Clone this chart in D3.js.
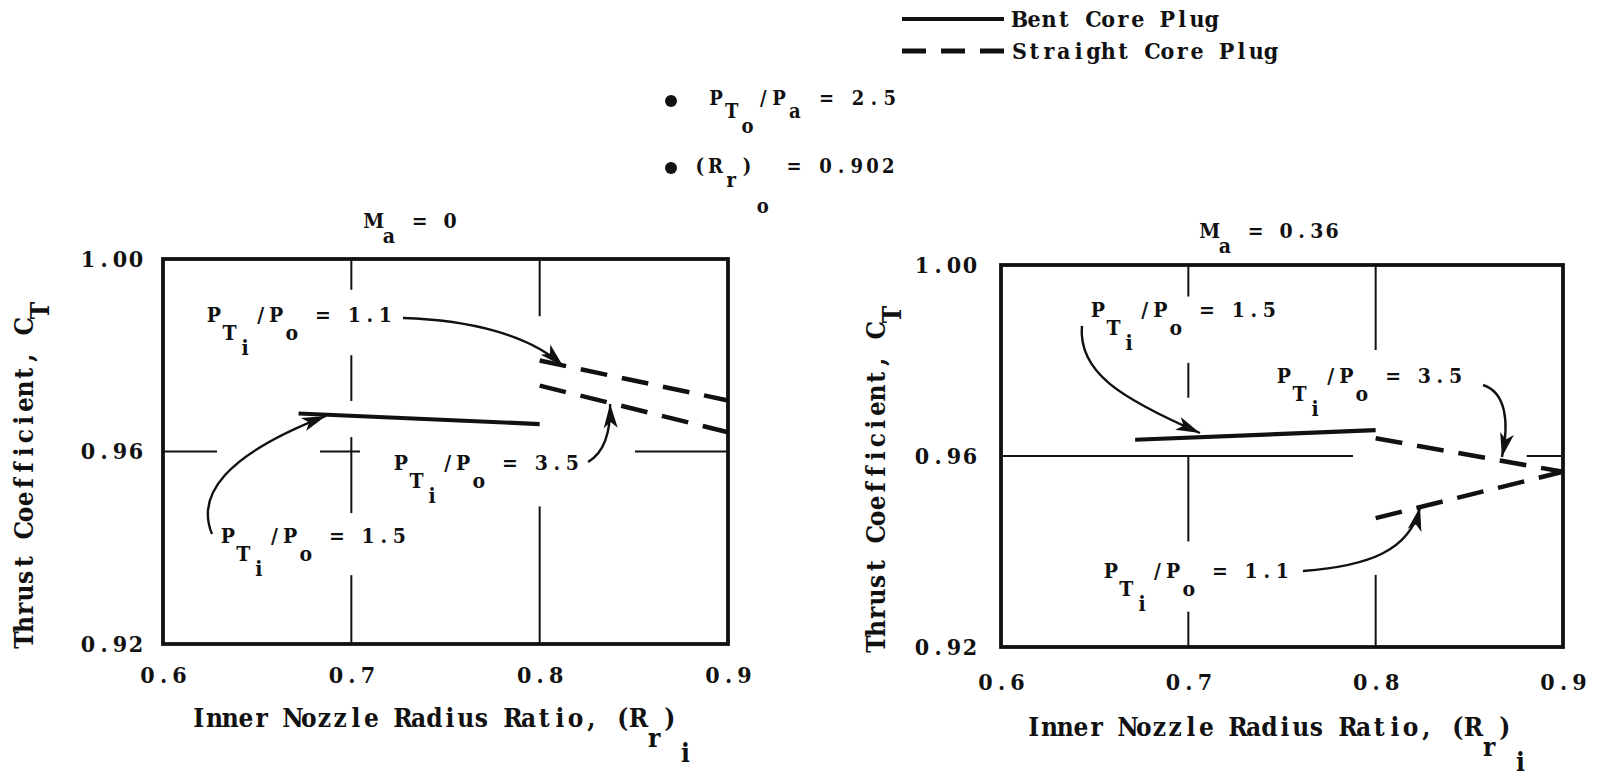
<!DOCTYPE html>
<html><head><meta charset="utf-8">
<script src="https://cdn.jsdelivr.net/npm/d3@7"></script>
<style>
body{margin:0;background:#fff;}
svg text{font-family:"DejaVu Serif",serif;font-weight:bold;font-stretch:condensed;fill:#111;white-space:pre;}
</style></head><body>
<svg id="chart" width="1598" height="779"></svg>
<script>
// ---------------- data ----------------
const xTicks = [0.6, 0.7, 0.8, 0.9];
const xTickLabels = ["0.6", "0.7", "0.8", "0.9"];
const yTicks = [0.92, 0.96, 1.00];
const yTickLabels = ["0.92", "0.96", "1.00"];
const machNumbers = ["0", "0.36"];
const legendLabels = ["Bent Core Plug", "Straight Core Plug"];
const totalPressureRatio = "2.5";     // P_To/P_a
const outerRadiusRatio = "0.902";     // (R_r)_o

// Bent core plug, P_Ti/P_o = 1.5  (per panel: Ma = 0, Ma = 0.36)
const bentX = [[0.672, 0.800], [0.6716, 0.800]];
const bentY = [[0.9679, 0.9657], [0.9634, 0.9654]];
// Straight core plug
const straightX = [0.80, 0.90];
const straight11Y = [[0.9789, 0.9706], [0.9470, 0.9567]];   // P_Ti/P_o = 1.1
const straight35Y = [[0.9737, 0.9640], [0.9637, 0.9567]];   // P_Ti/P_o = 3.5

// annotation labels: panel, ratio, x, y (data coords of label start / baseline)
const annoLabels = [
  [0, "1.1", 0.6239, 0.98691],
  [0, "1.5", 0.6313, 0.94098],
  [0, "3.5", 0.7232, 0.95615],
  [1, "1.5", 0.6486, 0.98911],
  [1, "3.5", 0.7479, 0.97529],
  [1, "1.1", 0.6555, 0.93445]
];
// annotation arrows: panel, cubic bezier control points in data coords
const annoArrows = [
  [0, [[0.7274, 0.98774], [0.7630, 0.98732], [0.7949, 0.98421], [0.8124, 0.97777]]],
  [0, [[0.6260, 0.94286], [0.6175, 0.95096], [0.6329, 0.95927], [0.6865, 0.96740]]],
  [0, [[0.8257, 0.95782], [0.8320, 0.95927], [0.8379, 0.96239], [0.8374, 0.96987]]],
  [1, [[0.6432, 0.98723], [0.6411, 0.97759], [0.6635, 0.97215], [0.7062, 0.96482]]],
  [1, [[0.8573, 0.97487], [0.8690, 0.97340], [0.8717, 0.96754], [0.8674, 0.95979]]],
  [1, [[0.7612, 0.93592], [0.7970, 0.93696], [0.8183, 0.94032], [0.8237, 0.94932]]]
];
// grid line pieces (broken by annotations): panel, value, [from,to] pairs
const gridVertical = [
  [0, 0.7, [[1.00, 0.9936], [0.9800, 0.9705], [0.9630, 0.9472], [0.9343, 0.92]]],
  [0, 0.8, [[1.00, 0.9881], [0.9486, 0.92]]],
  [1, 0.7, [[1.00, 0.9934], [0.9795, 0.9722], [0.9600, 0.9421], [0.9274, 0.92]]],
  [1, 0.8, [[1.00, 0.9822], [0.9351, 0.92]]]
];
const gridHorizontal = [
  [0, 0.96, [[0.6, 0.6287], [0.6834, 0.7046], [0.8506, 0.9]]],
  [1, 0.96, [[0.6, 0.7879], [0.8806, 0.9]]]
];

// ---------------- layout ----------------
const panels = [
  {left: 163, right: 728, top: 259, bottom: 644, titleX: 366, titleY: 228, xtX: 191, xtY: 727, ytX: 33, ytY: 648, padB: 23, padL: 19},
  {left: 1001, right: 1563, top: 265, bottom: 647, titleX: 1202, titleY: 238, xtX: 1026, xtY: 736, ytX: 885, ytY: 652, padB: 27, padL: 23}
];
const INK = "#111";
const svg = d3.select("#chart");
svg.append("rect").attr("width", 1598).attr("height", 779).attr("fill", "#fff");

// typewriter-style text: every character sits in a fixed-width cell
function typed(parent, x, y, tokens, size, shifts, adv, transform) {
  const t = parent.append("text").attr("font-size", size)
    .attr("xml:space", "preserve").attr("text-anchor", "middle");
  if (transform) t.attr("transform", transform);
  let idx = 0;
  tokens.forEach(([s, lvl]) => {
    const xs = Array.from(s, (c, i) => (x + (idx + i + 0.5) * adv).toFixed(2));
    t.append("tspan").attr("x", xs.join(" ")).attr("y", y + shifts[lvl]).text(s);
    idx += s.length;
  });
  return t;
}
function monoize(sel, adv, anchor) {
  sel.each(function () {
    const el = d3.select(this), s = el.text(), n = s.length;
    const x0 = +el.attr("x") || 0;
    const start = anchor === "end" ? x0 - n * adv : anchor === "middle" ? x0 - n * adv / 2 : x0;
    el.attr("xml:space", "preserve").attr("text-anchor", "middle")
      .attr("x", Array.from(s, (c, i) => (start + (i + 0.5) * adv).toFixed(2)).join(" "));
  });
}

panels.forEach((p, pi) => {
  const x = d3.scaleLinear().domain([0.6, 0.9]).range([p.left, p.right]);
  const y = d3.scaleLinear().domain([0.92, 1.0]).range([p.bottom, p.top]);
  const g = svg.append("g");

  // grid pieces
  gridVertical.filter(d => d[0] === pi).forEach(([, xv, segs]) => {
    segs.forEach(([a, b]) => g.append("line")
      .attr("x1", x(xv)).attr("x2", x(xv)).attr("y1", y(a)).attr("y2", y(b))
      .attr("stroke", INK).attr("stroke-width", 2));
  });
  gridHorizontal.filter(d => d[0] === pi).forEach(([, yv, segs]) => {
    segs.forEach(([a, b]) => g.append("line")
      .attr("x1", x(a)).attr("x2", x(b)).attr("y1", y(yv)).attr("y2", y(yv))
      .attr("stroke", INK).attr("stroke-width", 2));
  });

  // frame
  g.append("rect").attr("x", x(0.6)).attr("y", y(1.0))
    .attr("width", x(0.9) - x(0.6)).attr("height", y(0.92) - y(1.0))
    .attr("fill", "none").attr("stroke", INK).attr("stroke-width", 3.8);

  // axes (labels only)
  const ax = g.append("g").attr("transform", `translate(0,${y(0.92)})`)
    .call(d3.axisBottom(x).tickValues(xTicks).tickFormat((d, i) => xTickLabels[i]).tickSize(0).tickPadding(p.padB));
  const ay = g.append("g").attr("transform", `translate(${x(0.6)},0)`)
    .call(d3.axisLeft(y).tickValues(yTicks).tickFormat((d, i) => yTickLabels[i]).tickSize(0).tickPadding(p.padL));
  [ax, ay].forEach(a => {
    a.attr("font-family", null).attr("font-size", null);
    a.select(".domain").remove();
    a.selectAll("text").attr("font-size", 23).attr("fill", INK);
  });
  monoize(ax.selectAll("text"), 16, "middle");
  monoize(ay.selectAll("text"), 16, "end");

  // data lines
  const line = d3.line().x(d => x(d[0])).y(d => y(d[1]));
  g.append("path").datum(d3.zip(bentX[pi], bentY[pi])).attr("d", line)
    .attr("fill", "none").attr("stroke", INK).attr("stroke-width", 4.2);
  [straight11Y[pi], straight35Y[pi]].forEach(ys => {
    g.append("path").datum(d3.zip(straightX, ys)).attr("d", line)
      .attr("fill", "none").attr("stroke", INK).attr("stroke-width", 4.5)
      .attr("stroke-dasharray", "27,15");
  });

  // annotation arrows
  annoArrows.filter(d => d[0] === pi).forEach(([, pts]) => {
    const P = pts.map(([a, b]) => [x(a), y(b)]);
    const path = d3.path();
    path.moveTo(P[0][0], P[0][1]);
    path.bezierCurveTo(P[1][0], P[1][1], P[2][0], P[2][1], P[3][0], P[3][1]);
    g.append("path").attr("d", path.toString()).attr("fill", "none")
      .attr("stroke", INK).attr("stroke-width", 2.4);
    const dx = P[3][0] - P[2][0], dy = P[3][1] - P[2][1];
    const L = Math.hypot(dx, dy), ux = dx / L, uy = dy / L;
    const len = 24, hw = 7;
    const bx = P[3][0] - ux * len, by = P[3][1] - uy * len;
    g.append("path").attr("d",
      `M${P[3][0]},${P[3][1]}L${bx - uy * hw},${by + ux * hw}L${P[3][0] - ux * len * 0.75},${P[3][1] - uy * len * 0.75}L${bx + uy * hw},${by - ux * hw}Z`)
      .attr("fill", INK);
  });

  // annotation labels
  annoLabels.filter(d => d[0] === pi).forEach(([, r, lx, ly]) => {
    typed(g, x(lx) - 2, y(ly),
      [["P", 0], ["T", 1], ["i", 2], ["/", 0], ["P", 0], ["o", 1], [" = " + r, 0]],
      21, [0, 18, 33], 15.6);
  });

  // panel title
  typed(g, p.titleX, p.titleY, [["M", 0], ["a", 1], [" = " + machNumbers[pi], 0]], 21, [0, 15], 15.3);
  // x-axis title
  typed(g, p.xtX, p.xtY, [["Inner Nozzle Radius Ratio, (R", 0], ["r", 1], [")", 0], ["i", 2]], 26, [0, 20, 35], 15.7);
  // y-axis title
  typed(g, 0, 0, [["Thrust Coefficient, C", 0], ["T", 1]], 26, [0, 16], 15.7,
    `translate(${p.ytX},${p.ytY}) rotate(-90)`);
});

// ---------------- legend ----------------
const lg = svg.append("g");
lg.append("line").attr("x1", 902).attr("x2", 1004).attr("y1", 19).attr("y2", 19)
  .attr("stroke", INK).attr("stroke-width", 4);
lg.append("line").attr("x1", 902).attr("x2", 1004).attr("y1", 51).attr("y2", 51)
  .attr("stroke", INK).attr("stroke-width", 5).attr("stroke-dasharray", "24,15");
legendLabels.forEach((d, i) => typed(lg, 1012, 27 + i * 32, [[d, 0]], 23, [0], 14.8));

// conditions
lg.append("circle").attr("cx", 671).attr("cy", 101).attr("r", 6).attr("fill", INK);
lg.append("circle").attr("cx", 671).attr("cy", 168).attr("r", 6).attr("fill", INK);
typed(lg, 708, 105, [["P", 0], ["T", 1], ["o", 2], ["/", 0], ["P", 0], ["a", 1], [" = " + totalPressureRatio, 0]], 20, [0, 13, 28], 15.8);
typed(lg, 692, 173, [["(R", 0], ["r", 1], [")", 0], ["o", 2], [" = " + outerRadiusRatio, 0]], 20, [0, 14, 40], 15.7);
</script>
</body></html>
